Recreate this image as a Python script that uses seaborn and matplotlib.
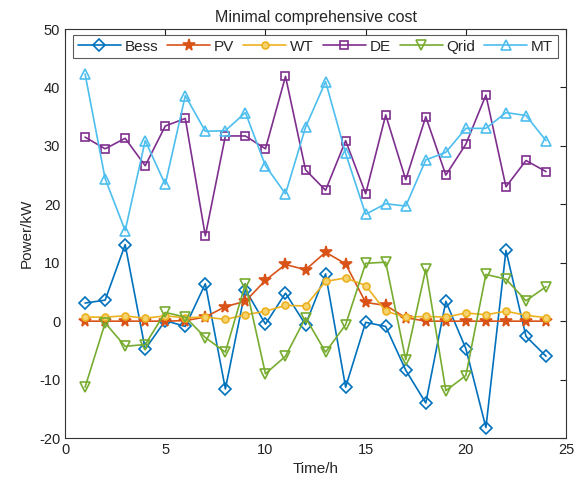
import numpy as np
import pandas as pd
import matplotlib
matplotlib.use("Agg")
import matplotlib.pyplot as plt
import seaborn as sns

hours = list(range(1, 25))
bess = [3.1, 3.6, 13.1, -4.8, 0.1, -0.9, 6.4, -11.6, 5.4, -0.5, 4.8, -0.6,
        8.1, -11.3, -0.2, -0.9, -8.4, -14.0, 3.4, -4.7, -18.2, 12.1, -2.6, -6.0]
pv = [0, 0, 0, 0, 0, 0.1, 0.7, 2.5, 3.4, 7.0, 9.7, 8.8,
      11.8, 9.8, 3.2, 2.7, 0.6, 0, 0, 0, 0, 0, 0, 0]
wt = [0.7, 0.7, 0.9, 0.5, 0.9, 0.6, 0.7, 0.3, 1.1, 1.7, 2.7, 2.6,
      6.8, 7.4, 6.1, 1.7, 0.7, 0.8, 0.7, 1.4, 1.1, 1.7, 1.0, 0.6]
de = [31.5, 29.5, 31.3, 26.6, 33.4, 34.7, 14.6, 31.7, 31.7, 29.5, 41.9, 25.9,
      22.4, 30.9, 21.8, 35.3, 24.2, 35.0, 25.0, 30.3, 38.7, 23.0, 27.5, 25.6]
qrid = [-11.3, -0.3, -4.3, -4.0, 1.5, 0.7, -2.8, -5.3, 6.4, -9.0, -6.0, 0.6,
        -5.3, -0.6, 9.9, 10.1, -6.6, 8.9, -11.9, -9.3, 8.0, 7.2, 3.5, 5.9]
mt = [42.3, 24.4, 15.5, 30.9, 23.4, 38.6, 32.5, 32.6, 35.7, 26.6, 21.8, 33.2,
      41.0, 28.7, 18.3, 20.1, 19.7, 27.6, 28.9, 33.0, 33.0, 35.7, 35.2, 30.9]

series_names = ["Bess", "PV", "WT", "DE", "Qrid", "MT"]
series_vals = [bess, pv, wt, de, qrid, mt]

sns.set_style("white")
plt.rcParams['font.family'] = ['Liberation Sans', 'DejaVu Sans']
plt.rcParams['axes.unicode_minus'] = False

colors = ["#0072BD", "#D95319", "#EDB120", "#7E2F8E", "#77AC30", "#4DBEEE"]
markers = ["D", "*", "o", "s", "v", "^"]
msizes = [6, 8.5, 5, 6, 7, 7.5]
faces = ["none", "#D95319", "#F5D36E", "none", "none", "none"]

fig = plt.figure(figsize=(5.86, 4.84), dpi=100)
ax = fig.add_axes([0.111, 0.095, 0.855, 0.845])

for name, vals, c, m, ms, fc in zip(series_names, series_vals, colors, markers, msizes, faces):
    df = pd.DataFrame({"Time": hours, "Power": vals})
    sns.lineplot(data=df, x="Time", y="Power", ax=ax, color=c, label=name,
                 marker=m, markersize=ms,
                 markerfacecolor=fc, markeredgecolor=c, markeredgewidth=1.2,
                 linewidth=1.2)

ax.set_xlim(0, 25)
ax.set_ylim(-20, 50)
ax.set_xticks([0, 5, 10, 15, 20, 25])
ax.set_yticks([-20, -10, 0, 10, 20, 30, 40, 50])
ax.tick_params(direction="in", top=True, right=True, length=4, labelsize=10.5,
               colors="#222222")
for s in ax.spines.values():
    s.set_color("#333333")
    s.set_linewidth(0.8)
ax.set_xlabel("Time/h", fontsize=11)
ax.set_ylabel("Power/kW", fontsize=11)
ax.set_title("Minimal comprehensive cost", fontsize=11.5, pad=5)

leg = ax.legend(loc="upper center", ncol=6, fontsize=11, frameon=True,
                fancybox=False, edgecolor="#333333", handlelength=2.8,
                columnspacing=0.6, handletextpad=0.25, borderaxespad=0.4,
                borderpad=0.3)
leg.get_frame().set_linewidth(0.8)

fig.savefig("out.png", dpi=100)
